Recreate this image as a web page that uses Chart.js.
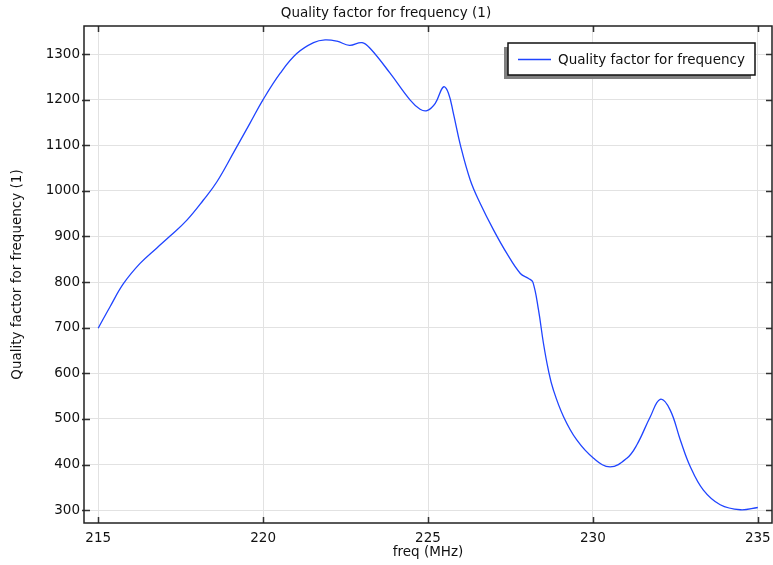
<!DOCTYPE html>
<html>
<head>
<meta charset="utf-8">
<script src="https://cdn.jsdelivr.net/npm/chart.js@4/dist/chart.umd.min.js"></script>
<style>
  html, body { margin: 0; padding: 0; background: #fff; }
  #wrap { width: 773px; height: 565px; }
</style>
</head>
<body>
<div id="wrap"><canvas id="qChart" width="773" height="565"></canvas></div>
<script>
// values
const freq = [
  215.0, 215.36, 215.77, 216.27, 216.78, 217.18, 217.69, 218.19, 218.6, 219.15,
  219.6, 220.0, 220.52, 221.02, 221.53, 221.88, 222.24, 222.62, 223.0, 223.25,
  223.85, 224.46, 224.76, 224.97, 225.22, 225.47, 225.62, 225.77, 225.98, 226.28,
  226.58, 226.99, 227.39, 227.8, 228.05, 228.18, 228.35, 228.5, 228.65, 228.8,
  229.11, 229.51, 230.02, 230.52, 231.03, 231.33, 231.74, 232.04, 232.34, 232.65,
  232.95, 233.35, 233.86, 234.47, 235.0
];
const quality = [
  699, 746, 797, 841, 875, 901, 936, 980, 1020, 1090,
  1148, 1200, 1258, 1301, 1325, 1331, 1328, 1319, 1325, 1312,
  1258, 1199, 1179, 1176, 1192, 1228, 1214, 1170, 1101, 1024,
  973, 914, 863, 819, 808, 800, 739, 666, 607, 564,
  505, 454, 414, 395, 414, 443, 505, 543, 520, 454,
  396, 344, 312, 301, 306
];
const xTicks = [215, 220, 225, 230, 235];
const yTicks = [300, 400, 500, 600, 700, 800, 900, 1000, 1100, 1200, 1300];
const seriesLabel = 'Quality factor for frequency';

const FONT = 'DejaVu Sans';
const FSIZE = 13.5;

// frame, inward ticks and the boxed legend
const framePlugin = {
    id: 'frame',
    afterDatasetsDraw(chart) {
        const { ctx, chartArea: a, scales } = chart;
        ctx.save();
        ctx.strokeStyle = '#333';
        ctx.lineWidth = 1.5;
        xTicks.forEach(v => {
            const px = Math.round(scales.x.getPixelForValue(v)) + 0.5;
            ctx.beginPath();
            ctx.moveTo(px, a.bottom); ctx.lineTo(px, a.bottom - 6);
            ctx.moveTo(px, a.top); ctx.lineTo(px, a.top + 6);
            ctx.stroke();
        });
        yTicks.forEach(v => {
            const py = Math.round(scales.y.getPixelForValue(v)) + 0.5;
            ctx.beginPath();
            ctx.moveTo(a.left - 2, py); ctx.lineTo(a.left + 6, py);
            ctx.moveTo(a.right, py); ctx.lineTo(a.right - 6, py);
            ctx.stroke();
        });
        ctx.strokeStyle = '#222';
        ctx.strokeRect(a.left, a.top, a.right - a.left, a.bottom - a.top);

        // legend box
        const bx = 508, by = 43, bw = 247, bh = 32;
        ctx.fillStyle = '#808080';
        ctx.fillRect(bx - 4, by + 4, bw, bh);
        ctx.fillStyle = '#fff';
        ctx.fillRect(bx, by, bw, bh);
        ctx.strokeStyle = '#111';
        ctx.lineWidth = 1.5;
        ctx.strokeRect(bx, by, bw, bh);
        ctx.strokeStyle = chart.data.datasets[0].borderColor;
        ctx.lineWidth = 1.3;
        ctx.beginPath();
        ctx.moveTo(bx + 10, by + 16.5); ctx.lineTo(bx + 43, by + 16.5);
        ctx.stroke();
        ctx.fillStyle = '#111';
        ctx.font = FSIZE + 'px "' + FONT + '"';
        ctx.textBaseline = 'middle';
        ctx.fillText(chart.data.datasets[0].label, bx + 50, by + 17);
        ctx.restore();
    }
};

new Chart(document.getElementById('qChart'), {
    type: 'line',
    data: {
        datasets: [{
            label: seriesLabel,
            data: freq.map((f, i) => ({ x: f, y: quality[i] })),
            borderColor: '#1f44ff',
            borderWidth: 1.3,
            pointRadius: 0,
            fill: false,
            tension: 0.4
        }]
    },
    options: {
        responsive: false,
        animation: false,
        layout: { autoPadding: false, padding: { left: 0, right: 1, top: 0, bottom: 0 } },
        plugins: {
            legend: { display: false },
            tooltip: { enabled: false },
            title: {
                display: true,
                text: 'Quality factor for frequency (1)',
                color: '#111',
                font: { family: FONT, size: FSIZE, weight: 'normal' },
                padding: { top: 5, bottom: 4.8 }
            }
        },
        scales: {
            x: {
                type: 'linear',
                min: 214.57,
                max: 235.43,
                afterBuildTicks: s => { s.ticks = xTicks.map(v => ({ value: v })); },
                afterFit: s => {
                    s.height = 42;
                    s.paddingLeft = 0;
                    s.paddingRight = 0;
                },
                grid: { color: '#e2e2e2', lineWidth: 1, drawTicks: false },
                border: { display: false },
                ticks: {
                    color: '#111',
                    padding: 7.5,
                    maxRotation: 0,
                    callback: v => String(v),
                    font: { family: FONT, size: FSIZE }
                },
                title: {
                    display: true,
                    text: 'freq (MHz)',
                    color: '#111',
                    padding: { top: 0, bottom: 4 },
                    font: { family: FONT, size: FSIZE }
                }
            },
            y: {
                min: 272,
                max: 1361.4,
                afterBuildTicks: s => { s.ticks = yTicks.map(v => ({ value: v })); },
                afterFit: s => {
                    s.width = 84;
                    s.paddingTop = 0;
                    s.paddingBottom = 0;
                },
                grid: { color: '#e2e2e2', lineWidth: 1, drawTicks: false },
                border: { display: false },
                ticks: {
                    color: '#111',
                    padding: 4,
                    callback: v => String(v),
                    font: { family: FONT, size: FSIZE }
                },
                title: {
                    display: true,
                    text: 'Quality factor for frequency (1)',
                    color: '#111',
                    padding: { top: 9, bottom: 0 },
                    font: { family: FONT, size: FSIZE }
                }
            }
        }
    },
    plugins: [framePlugin]
});
</script>
</body>
</html>
